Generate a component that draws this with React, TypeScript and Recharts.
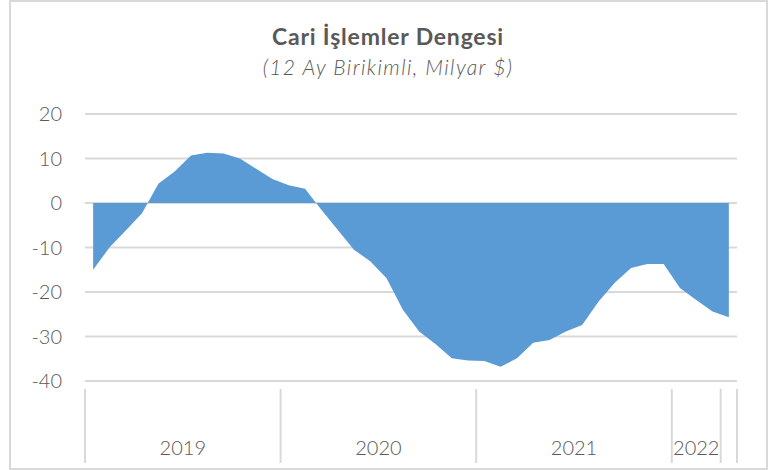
import { AreaChart, Area, XAxis, YAxis, CartesianGrid } from "recharts"

const years = ["2019", "2020", "2021", "2022"]
// 12 month cumulative current account balance, billion $
const values2019 = [-15, -10, -6.2, -2.3, 4.3, 7.1, 10.7, 11.3, 11.1, 10, 7.7, 5.4]
const values2020 = [4.0, 3.2, -1.5, -6.0, -10.5, -13.1, -16.9, -24, -28.9, -31.7, -34.9, -35.4]
const values2021 = [-35.5, -36.8, -34.9, -31.4, -30.8, -28.9, -27.4, -22.2, -17.9, -14.6, -13.7, -13.7]
const values2022 = [-19.1, -21.8, -24.4, -25.7]
const yTicks = [-40, -30, -20, -10, 0, 10, 20]
// year separators on the category axis (the 2022 group only labels 3 slots)
const separators = [0, 12, 24, 36, 39, 40]
const labelSpans: Record<number, number> = { 0: 12, 12: 12, 24: 12, 36: 3 }

const allValues = [...values2019, ...values2020, ...values2021, ...values2022]
const data = allValues.map((v, i) => ({ pos: i + 0.5, value: v }))

const FONT = "Lato, 'Open Sans', sans-serif"
const GRAY = "#d9d9d9"
const TEXT = "#595959"
const UNIT = 652 / 40

function YearTick(props: any) {
  const { x, y, payload } = props
  const v = payload.value as number
  const span = labelSpans[v]
  const idx = [0, 12, 24, 36].indexOf(v)
  return (
    <g>
      <line x1={x} x2={x} y1={y} y2={y + 74} stroke={GRAY} strokeWidth={2} />
      {span !== undefined && (
        <text
          x={x + (span * UNIT) / 2}
          y={y + 66}
          textAnchor="middle"
          fontFamily={FONT}
          fontWeight={300}
          fontSize={20}
          fill={TEXT}
        >
          {years[idx]}
        </text>
      )}
    </g>
  )
}

export default function App() {
  return (
    <div style={{ position: "absolute", left: 0, top: 0, width: 771, height: 470 }}>
      <div
        style={{
          position: "absolute",
          left: 9,
          top: 0,
          width: 759,
          height: 470,
          border: `2px solid ${GRAY}`,
          boxSizing: "border-box",
        }}
      />
      <div
        style={{
          position: "absolute",
          left: 0,
          top: 22,
          width: 776,
          textAlign: "center",
          fontFamily: FONT,
          fontWeight: 700,
          fontSize: 23,
          letterSpacing: 0.8,
          color: TEXT,
        }}
      >
        Cari İşlemler Dengesi
      </div>
      <div
        style={{
          position: "absolute",
          left: 0,
          top: 54,
          width: 776,
          textAlign: "center",
          fontFamily: FONT,
          fontStyle: "italic",
          fontWeight: 300,
          fontSize: 21,
          letterSpacing: 1.4,
          color: TEXT,
        }}
      >
        (12 Ay Birikimli, Milyar $)
      </div>
      <div style={{ position: "absolute", left: 0, top: 0 }}>
        <AreaChart
          width={771}
          height={470}
          data={data}
          margin={{ top: 114, right: 34, bottom: 9, left: 25 }}
        >
          <CartesianGrid vertical={false} stroke={GRAY} strokeWidth={2} />
          <XAxis
            dataKey="pos"
            type="number"
            domain={[0, 40]}
            ticks={separators}
            interval={0}
            height={80}
            axisLine={{ stroke: GRAY, strokeWidth: 2 }}
            tickLine={false}
            tick={<YearTick />}
          />
          <YAxis
            domain={[-40, 20]}
            ticks={yTicks}
            width={60}
            axisLine={false}
            tickLine={false}
            tickSize={0}
            tickMargin={23}
            tick={{ fontFamily: FONT, fontWeight: 300, fontSize: 20, fill: TEXT }}
          />
          <Area
            type="linear"
            dataKey="value"
            baseValue={0}
            fill="#5b9bd5"
            fillOpacity={1}
            stroke="none"
            isAnimationActive={false}
          />
        </AreaChart>
      </div>
    </div>
  )
}
